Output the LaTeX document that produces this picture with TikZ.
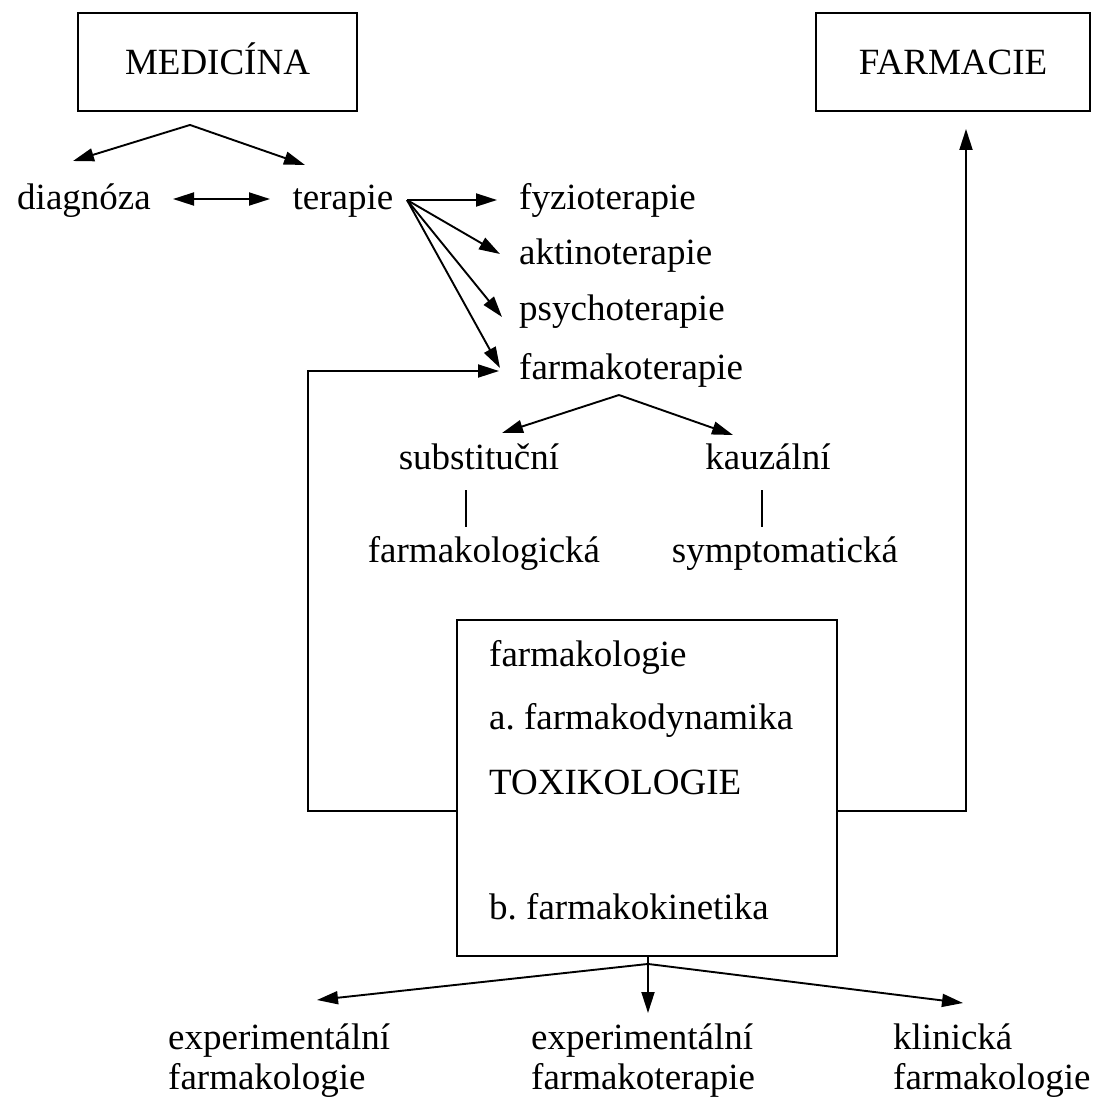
\documentclass[tikz,border=0pt]{standalone}
\usepackage{fontspec}
\setmainfont{Liberation Serif}
\usetikzlibrary{arrows.meta}
\begin{document}
\begin{tikzpicture}[x=1pt,y=-1pt,
  every node/.style={inner sep=0pt, font=\fontsize{37}{40}\selectfont},
  boxnode/.style={draw, line width=1.9pt, rectangle},
  conn/.style={line width=1.9pt, -{Triangle[length=21pt,width=13pt]}},
  dbl/.style={line width=1.9pt, {Triangle[length=21pt,width=13pt]}-{Triangle[length=21pt,width=13pt]}},
  plain/.style={line width=1.9pt}]
\useasboundingbox (0,0) rectangle (1105,1109);

% top boxes
\node[boxnode, minimum width=279pt, minimum height=98pt, text height=24pt, text depth=0pt] (med) at (217.5,62) {MEDICÍNA};
\node[boxnode, minimum width=274pt, minimum height=98pt, text height=24pt, text depth=0pt] (farm) at (953,62) {FARMACIE};

% medicine branches
\node[anchor=base] (diag) at (84,209) {diagnóza};
\node[anchor=base] (ter) at (343,209) {terapie};
\node[anchor=base west] (fyz) at (519,209) {fyzioterapie};
\node[anchor=base west] (akt) at (519,264) {aktinoterapie};
\node[anchor=base west] (psy) at (519,320) {psychoterapie};
\node[anchor=base west] (fko) at (519,379) {farmakoterapie};
\node[anchor=base] (sub) at (479,469) {substituční};
\node[anchor=base] (kau) at (768,469) {kauzální};
\node[anchor=base] (fkl) at (484,562) {farmakologická};
\node[anchor=base] (sym) at (785,562) {symptomatická};

% pharmacology box
\node[boxnode, minimum width=380pt, minimum height=336pt] (tox) at (647,788) {};
\node[anchor=base west] (t1) at (489,666) {farmakologie};
\node[anchor=base west] (t2) at (489,729) {a.\ farmakodynamika};
\node[anchor=base west] (t3) at (489,794) {TOXIKOLOGIE};
\node[anchor=base west] (t4) at (489,919) {b.\ farmakokinetika};

% bottom branches (base anchor sits on the second line)
\node[anchor=base west, align=left] (e1) at (168,1089) {experimentální\\farmakologie};
\node[anchor=base west, align=left] (e2) at (531,1089) {experimentální\\farmakoterapie};
\node[anchor=base west, align=left] (e3) at (893,1089) {klinická\\farmakologie};

% junction points
\coordinate (mA) at ([shift={(-27.5,13)}]med.south);
\coordinate (tS) at ([shift={(64,-9)}]ter.base);
\coordinate (fA) at ([shift={(100,16)}]fko.base west);
\coordinate (bA) at ([shift={(1,7)}]tox.south);

% connectors
\draw[conn] (mA) -- ([shift={(-11,-48)}]diag.base);
\draw[conn] (mA) -- ([shift={(-38,-44)}]ter.base);
\draw[dbl] ([shift={(89,-10)}]diag.base) -- ([shift={(-73,-10)}]ter.base);

\draw[conn] (tS) -- ([shift={(-22,-9)}]fyz.base west);
\draw[conn] (tS) -- ([shift={(-19,-10)}]akt.base west);
\draw[conn] (tS) -- ([shift={(-17,-3)}]psy.base west);
\draw[conn] (tS) -- ([shift={(-19,-11)}]fko.base west);

\draw[conn] (fA) -- ([shift={(23,-36)}]sub.base);
\draw[conn] (fA) -- ([shift={(-35,-34)}]kau.base);
\draw[plain] ([shift={(-13,21)}]sub.base) -- ([shift={(-18,-35)}]fkl.base);
\draw[plain] ([shift={(-6,21)}]kau.base) -- ([shift={(-23,-35)}]sym.base);

\draw[conn] ([shift={(0,23)}]tox.west) -| ([shift={(-211,-8)}]fko.base west) -- ([shift={(-20,-8)}]fko.base west);
\draw[conn] ([shift={(0,23)}]tox.east) -| ([shift={(13,17)}]farm.south);

\draw[conn] (bA) -- ([shift={(149,-89)}]e1.base west);
\draw[conn] ([shift={(1,0)}]tox.south) -- ([shift={(117,-76)}]e2.base west);
\draw[conn] (bA) -- ([shift={(70,-86)}]e3.base west);
\end{tikzpicture}
\end{document}
